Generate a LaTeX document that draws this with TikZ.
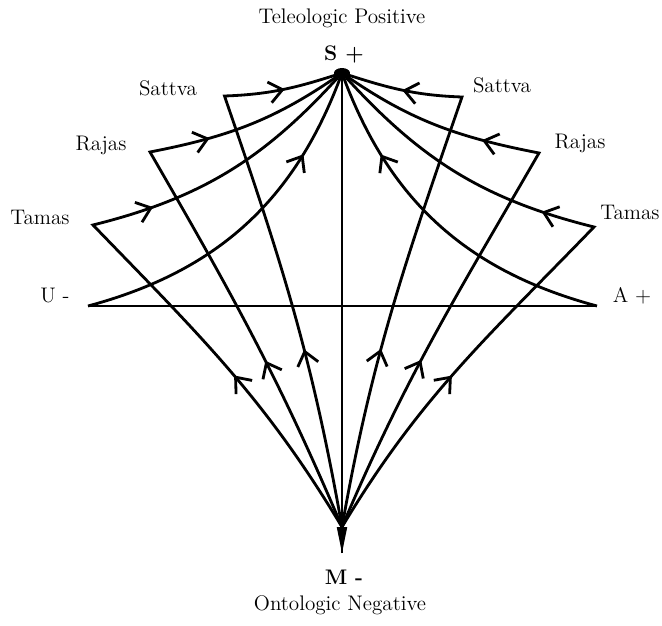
\documentclass[tikz,border=0pt]{standalone}
\usetikzlibrary{arrows.meta,decorations.markings}

\tikzset{
  barbtip/.tip={Straight Barb[length=7.5pt,width=12pt]},
  flow/.style 2 args={postaction={decorate},decoration={markings,
    mark=at position #1 with {\arrow{barbtip}},
    mark=at position #2 with {\arrow{barbtip}}}},
  flowone/.style={postaction={decorate},decoration={markings,
    mark=at position #1 with {\arrow{barbtip}}}},
  guna/.style={font=\large},
}

\begin{document}
\begin{tikzpicture}[line width=1.6pt,line join=miter]
  \useasboundingbox (-6.84,-6.4) rectangle (6.4,6.12);
  \coordinate (S) at (0,4.66);
  \coordinate (M) at (0,-4.94);
  \coordinate (Mc) at (0,-4.42);
  \coordinate (U) at (-5.08,0);
  \coordinate (A) at (5.1,0);
  \coordinate (satL) at (-2.35,4.2);
  \coordinate (satR) at (2.4,4.18);
  \coordinate (rajL) at (-3.84,3.08);
  \coordinate (rajR) at (3.94,3.06);
  \coordinate (tamL) at (-4.98,1.62);
  \coordinate (tamR) at (5.04,1.58);
  \draw (U) -- (A);
  \draw (M) -- (S);
  \draw[flow={0.27}{0.66}] (Mc) to[out=121,in=-46] (tamL) to[out=14,in=228] (S);
  \draw[flow={0.29}{0.765}] (Mc) to[out=113,in=-60] (rajL) to[out=11,in=215] (S);
  \draw[flow={0.32}{0.895}] (Mc) to[out=100,in=-71] (satL) to[out=2,in=198] (S);
  \draw[flowone=0.75] (U) to[out=15,in=250] (S);
  \draw[flow={0.27}{0.645}] (Mc) to[out=59,in=-134] (tamR) to[out=166,in=-48] (S);
  \draw[flow={0.29}{0.755}] (Mc) to[out=67,in=-120] (rajR) to[out=169,in=-35] (S);
  \draw[flow={0.32}{0.89}] (Mc) to[out=80,in=-109] (satR) to[out=178,in=-18] (S);
  \draw[flowone=0.75] (A) to[out=165,in=-70] (S);
  \fill (S) ellipse [x radius=0.16, y radius=0.1];
  \fill ([xshift=-3pt]Mc) -- ([xshift=3pt]Mc) -- (M) -- cycle;
  \node[guna] (tele) at (0,5.76) {Teleologic Positive};
  \node[guna,font=\large\bfseries] (splus) at (0.04,5.04) {S +};
  \node[guna,font=\large\bfseries] (mminus) at (0.04,-5.42) {M -};
  \node[guna] (onto) at (-0.04,-5.98) {Ontologic Negative};
  \node[guna] (satLl) at (-3.48,4.36) {Sattva};
  \node[guna] (satRl) at (3.2,4.42) {Sattva};
  \node[guna] (rajLl) at (-4.82,3.22) {Rajas};
  \node[guna] (rajRl) at (4.76,3.26) {Rajas};
  \node[guna] (tamLl) at (-6.04,1.78) {Tamas};
  \node[guna] (tamRl) at (5.76,1.88) {Tamas};
  \node[guna] (ul) at (-5.74,0.2) {U -};
  \node[guna] (al) at (5.8,0.2) {A +};
\end{tikzpicture}
\end{document}
